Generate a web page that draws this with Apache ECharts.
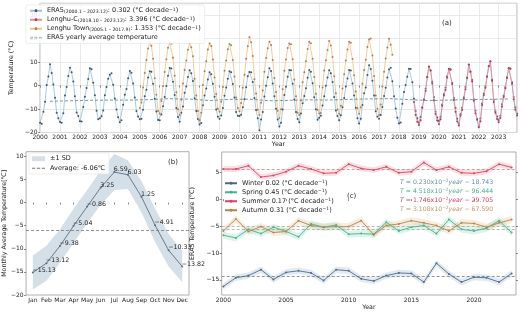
<!DOCTYPE html>
<html>
<head>
<meta charset="utf-8">
<script src="https://cdn.jsdelivr.net/npm/echarts@6/dist/echarts.min.js"></script>
<style>
html, body { margin: 0; padding: 0; background: #fff; }
#chart { width: 520px; height: 312px; }
</style>
</head>
<body>
<div id="chart"></div>
<script>
// (a) ERA5 monthly temperature, one row per year 2000..2023
var era5Monthly = [
	[-15.8, -16.3, -11.2, -6.9, 0.2, 3.8, 9.1, 5.3, 0.4, -5.2, -11.6, -13.9],
	[-15.5, -15.9, -11.8, -4.3, -0.6, 4.1, 7.6, 5.6, 1.7, -4.6, -11.5, -13.0],
	[-15.2, -15.3, -9.1, -4.8, -1.1, 2.8, 7.4, 6.9, 1.2, -4.1, -10.7, -14.4],
	[-13.9, -13.1, -10.6, -4.1, -0.6, 2.9, 4.6, 5.2, 0.3, -5.5, -10.2, -13.5],
	[-15.6, -14.8, -8.2, -3.9, -1.5, 3.1, 6.2, 5.4, 0.9, -5.1, -10.9, -13.2],
	[-14.4, -14.1, -10.3, -4.6, -1.8, 3.4, 6.1, 5.9, 0.8, -5.6, -11.1, -14.7],
	[-14.8, -12.3, -8.8, -4.9, -0.2, 4.2, 7.5, 7.2, 1.6, -4.0, -9.6, -13.4],
	[-15.4, -11.6, -8.9, -3.1, -0.4, 3.6, 6.5, 5.2, 1.9, -5.4, -10.9, -14.2],
	[-16.6, -16.0, -8.4, -4.2, -1.3, 2.6, 5.6, 4.8, 0.7, -4.8, -10.2, -13.3],
	[-14.1, -12.8, -9.6, -4.4, -0.8, 2.9, 6.1, 5.6, 0.6, -5.1, -11.3, -12.9],
	[-13.0, -12.4, -9.3, -5.8, -0.7, 3.9, 5.8, 5.7, 1.5, -5.3, -10.4, -13.9],
	[-19.0, -14.5, -11.3, -4.7, -0.1, 3.5, 7.3, 6.2, 0.9, -4.6, -9.9, -14.5],
	[-17.4, -15.8, -10.2, -4.0, -0.5, 3.7, 6.6, 6.5, 0.8, -5.9, -11.3, -14.3],
	[-15.6, -11.9, -7.6, -4.5, -1.2, 3.3, 6.6, 5.9, 1.0, -5.0, -10.1, -14.6],
	[-13.7, -12.9, -8.5, -4.6, -0.1, 3.4, 6.5, 5.2, 1.5, -4.9, -10.6, -13.0],
	[-14.8, -12.7, -9.2, -5.3, -0.4, 3.0, 6.6, 6.4, 0.9, -4.3, -9.5, -13.9],
	[-16.2, -14.1, -8.3, -3.3, -0.8, 4.5, 8.6, 7.0, 2.0, -4.3, -11.0, -13.3],
	[-14.1, -12.6, -9.1, -4.5, -0.9, 3.4, 6.9, 7.6, 1.8, -4.6, -9.8, -13.7],
	[-16.2, -15.7, -7.8, -2.8, 0.2, 3.7, 7.1, 7.0, 1.4, -5.6, -10.9, -13.9],
	[-15.9, -13.4, -9.2, -6.2, -1.4, 3.6, 7.8, 6.3, 1.6, -4.9, -11.2, -13.6],
	[-15.1, -13.3, -8.1, -3.7, -0.9, 3.9, 6.9, 6.7, 1.1, -5.3, -9.6, -14.1],
	[-16.3, -12.2, -9.5, -5.1, -0.6, 3.4, 8.8, 5.8, 2.3, -5.8, -10.7, -14.3],
	[-17.3, -14.0, -7.7, -3.5, -0.3, 3.9, 8.1, 10.2, 2.5, -6.1, -11.0, -13.2],
	[-14.8, -12.9, -8.0, -4.4, -0.6, 3.5, 7.2, 7.1, 1.4, -4.9, -9.4, -12.0]
];
// Lenghu Town station 2005.1 - 2017.9
var townMonthly = [
	[-9.6, -7.2, -0.8, 5.3, 10.9, 15.8, 18.6, 16.9, 11.4, 3.1, -3.9, -10.8],
	[-11.9, -6.6, -0.3, 5.8, 11.2, 16.1, 18.1, 17.8, 11.8, 4.2, -2.9, -10.1],
	[-12.6, -6.1, 0.9, 6.6, 10.6, 15.2, 18.0, 16.3, 12.5, 2.9, -4.2, -10.9],
	[-14.8, -11.6, 0.2, 6.1, 10.3, 15.3, 17.9, 16.8, 11.1, 3.4, -3.6, -9.9],
	[-11.2, -6.9, -0.6, 6.3, 10.6, 15.4, 17.7, 17.1, 10.9, 3.8, -5.1, -9.6],
	[-11.0, -7.4, -0.9, 4.6, 11.4, 16.7, 20.6, 18.4, 12.6, 2.7, -3.4, -10.3],
	[-12.6, -7.3, -2.1, 5.9, 11.7, 15.9, 18.6, 17.2, 10.9, 3.2, -2.8, -10.7],
	[-13.8, -10.1, -1.6, 6.3, 11.1, 16.0, 17.9, 17.6, 11.2, 2.6, -4.6, -11.6],
	[-12.6, -6.4, 1.4, 5.6, 10.3, 15.5, 18.6, 18.0, 11.4, 3.6, -3.5, -10.4],
	[-11.9, -11.7, -0.8, 6.4, 10.8, 15.1, 19.0, 17.0, 12.1, 3.9, -3.3, -10.2],
	[-12.0, -8.6, -1.3, 4.8, 10.7, 15.3, 18.6, 18.2, 11.3, 4.4, -2.5, -9.7],
	[-12.0, -9.2, 0.7, 6.6, 11.0, 16.4, 19.6, 20.0, 12.8, 4.0, -4.2, -9.9],
	[-12.6, -8.1, -0.4, 5.9, 11.5, 16.2, 19.9, 17.4, 13.1]
];
// Lenghu-C station 2018.10 - 2023.12
var lenghuCMonthly = [
	[-7.0, -12.5, -15.4],
	[-16.8, -14.8, -9.5, -6.0, -2.3, 3.6, 8.1, 6.5, 0.9, -6.3, -12.1, -14.9],
	[-16.5, -14.4, -8.6, -4.3, -1.9, 3.4, 7.1, 6.9, 0.6, -6.2, -11.2, -15.3],
	[-17.0, -12.9, -10.4, -5.6, -1.6, 3.2, 9.0, 6.0, 1.7, -6.5, -11.8, -14.6],
	[-17.8, -15.2, -8.3, -4.1, -0.9, 3.7, 8.3, 10.3, 2.0, -7.0, -11.6, -14.2],
	[-15.6, -13.8, -8.9, -4.9, -1.2, 3.2, 7.5, 7.2, 0.8, -5.8, -10.3, -12.8]
];
var era5Yearly = [-6.7, -6.5, -6.3, -6.2, -6.2, -6.0, -5.6, -5.8, -6.4, -5.9, -5.8, -6.5,
	-6.3, -6.1, -6.2, -5.9, -5.7, -5.6, -6.0, -6.4, -6.2, -6.0, -5.9, -5.7];

// (b) monthly climatology
var months = ['Jan', 'Feb', 'Mar', 'Apr', 'May', 'Jun', 'Jul', 'Aug', 'Sep', 'Oct', 'Nov', 'Dec'];
var monthMean = [-15.13, -13.12, -9.38, -5.04, -0.86, 3.25, 6.59, 6.03, 1.25, -4.91, -10.33, -13.82];
var monthSd = [3.7, 3.8, 3.6, 3.7, 3.6, 3.7, 3.9, 3.1, 3.4, 3.6, 3.5, 3.4];
var annualAverage = -6.06;

// (c) seasonal means 2000..2023
var seasonYears = [2000, 2001, 2002, 2003, 2004, 2005, 2006, 2007, 2008, 2009, 2010, 2011,
	2012, 2013, 2014, 2015, 2016, 2017, 2018, 2019, 2020, 2021, 2022, 2023];
var winter = [-16.2, -14.6, -14.2, -13.1, -14.9, -13.6, -13.3, -13.7, -15.1, -13.1, -13.3, -14.8,
	-15.2, -14.2, -13.7, -13.8, -15.4, -11.9, -13.9, -15.4, -14.5, -14.6, -15.4, -13.8];
var spring = [-6.7, -7.2, -5.6, -6.4, -5.2, -6.0, -7.0, -4.6, -5.2, -4.8, -6.5, -6.4,
	-6.5, -4.3, -5.9, -5.2, -4.9, -6.4, -3.8, -5.6, -5.9, -5.4, -4.0, -6.2];
var summer = [5.6, 5.6, 6.2, 4.1, 4.4, 5.1, 6.2, 5.6, 4.8, 4.9, 6.5, 5.7,
	5.4, 6.0, 4.9, 5.1, 6.8, 5.4, 6.0, 4.9, 4.8, 5.2, 6.5, 5.9];
var autumn = [-5.9, -3.7, -6.0, -5.1, -6.2, -6.0, -4.0, -4.9, -5.2, -5.1, -5.1, -4.0,
	-6.6, -4.9, -4.6, -4.0, -4.4, -4.9, -5.9, -4.4, -4.5, -5.2, -4.4, -3.8];
var seasonSpread = [0.6, 0.65, 0.55, 0.65];  // half width of shaded band: winter, spring, summer, autumn

var FONT = 'DejaVu Sans';
var FS = 6.5;

function monthPoints(rows, startYear, startMonth) {
	var pts = [];
	var k = 0;
	rows.forEach(function(row) {
		row.forEach(function(v) {
			pts.push([startYear + (startMonth - 1 + k) / 12, v]);
			k++;
		});
	});
	return pts;
}
function minus(v) {
	return String(v).replace('-', '\u2212');
}
function bandSeries(xs, lo, hi, color, axisIdx) {
	var data = xs.map(function(x, i) { return [x, lo[i], hi[i]]; });
	return {
		type: 'custom',
		xAxisIndex: axisIdx,
		yAxisIndex: axisIdx,
		data: data,
		silent: true,
		z: 1,
		encode: { x: 0, y: [1, 2] },
		renderItem: function(params, api) {
			if (params.dataIndex !== 0) return;
			var top = [], bot = [];
			for (var i = 0; i < xs.length; i++) {
				top.push(api.coord([xs[i], hi[i]]));
				bot.unshift(api.coord([xs[i], lo[i]]));
			}
			return { type: 'polygon', shape: { points: top.concat(bot) }, style: { fill: color } };
		}
	};
}
function seasonLine(name, values, lineColor, dashColor) {
	return {
		name: name, type: 'line', xAxisIndex: 2, yAxisIndex: 2, z: 3,
		data: seasonYears.map(function(y, i) { return [y, values[i]]; }),
		symbol: 'circle', symbolSize: 2,
		lineStyle: { color: lineColor, width: 0.9 },
		itemStyle: { color: lineColor },
		markLine: {
			silent: true, symbol: 'none', label: { show: false },
			lineStyle: { color: dashColor, type: [3, 2], width: 0.7 },
			data: [{ type: 'average' }]
		}
	};
}
function eqText(top, text, color) {
	return {
		type: 'text', left: 400, top: top,
		style: {
			text: text, fontSize: 6.2, fontFamily: FONT, fill: color,
			rich: {
				i: { fontStyle: 'italic', fontSize: 6.2, fontFamily: FONT, fill: color },
				s: { fontSize: 4.4, verticalAlign: 'top', lineHeight: 4, fontFamily: FONT, fill: color }
			}
		}
	};
}

var era5Pts = monthPoints(era5Monthly, 2000, 1);
var townPts = monthPoints(townMonthly, 2005, 1);
var lenghuCPts = monthPoints(lenghuCMonthly, 2018, 10);
var yearlyPts = era5Yearly.map(function(v, i) { return [2000.5 + i, v]; });

var sdLo = monthMean.map(function(m, i) { return m - monthSd[i]; });
var sdHi = monthMean.map(function(m, i) { return m + monthSd[i]; });
var monthIdx = months.map(function(m, i) { return i; });

function spreadLo(v, s) { return v.map(function(x) { return x - s; }); }
function spreadHi(v, s) { return v.map(function(x) { return x + s; }); }

var legendTextA = {
	'ERA5': 'ERA5{sub|(2000.1 \u2013 2023.12)}: 0.302 (\u00b0C decade{sup|\u22121})',
	'Lenghu-C': 'Lenghu-C{sub|(2018.10 \u2013 2023.12)}: 3.396 (\u00b0C decade{sup|\u22121})',
	'Lenghu Town': 'Lenghu Town{sub|(2005.1 \u2013 2017.9)}: 1.353 (\u00b0C decade{sup|\u22121})',
	'ERA5 yearly average temperature': 'ERA5 yearly average temperature'
};
var legendTextC = {
	'Winter': 'Winter 0.02 (\u00b0C decade{sup|\u22121})',
	'Spring': 'Spring 0.45 (\u00b0C decade{sup|\u22121})',
	'Summer': 'Summer 0.17 (\u00b0C decade{sup|\u22121})',
	'Autumn': 'Autumn 0.31 (\u00b0C decade{sup|\u22121})'
};
var richSub = {
	sub: { fontSize: 4.6, fontFamily: FONT, lineHeight: 4, verticalAlign: 'bottom', color: '#222' },
	sup: { fontSize: 4.6, fontFamily: FONT, lineHeight: 4, verticalAlign: 'top', color: '#222' }
};
var dashIcon = 'path://M0,0h4v1h-4z M6,0h4v1h-4z M12,0h4v1h-4z';

var axisLabelStyle = { fontSize: 6, fontFamily: FONT, color: '#222', margin: 2, formatter: minus };
var tickStyle = { show: true, length: 2, lineStyle: { color: '#555', width: 0.7 } };
var nameStyle = { fontSize: 6.3, fontFamily: FONT, color: '#222' };

var chart = echarts.init(document.getElementById('chart'), null, { renderer: 'canvas' });
var option = {
	animation: false,
	backgroundColor: '#fff',
	grid: [
		{ left: 22.8, top: 3.3, width: 494.2, height: 129.2, show: true, borderColor: '#999', borderWidth: 0.8 },
		{ left: 25, top: 151.7, width: 164, height: 143.3, show: true, borderColor: '#999', borderWidth: 0.8 },
		{ left: 221.7, top: 152, width: 294.3, height: 143, show: true, borderColor: '#999', borderWidth: 0.8 }
	],
	xAxis: [
		{
			type: 'value', gridIndex: 0, min: 2000, max: 2023.917, interval: 1,
			axisLine: { show: false }, axisTick: tickStyle,
			axisLabel: Object.assign({}, axisLabelStyle, { showMaxLabel: false, margin: 1.5 }),
			splitLine: { show: true, lineStyle: { color: '#e4e4e4', width: 0.8 } },
			name: 'Year', nameLocation: 'middle', nameGap: 8, nameTextStyle: nameStyle
		},
		{
			type: 'category', gridIndex: 1, data: months, boundaryGap: true,
			axisLine: { show: false }, axisTick: Object.assign({ alignWithLabel: true }, tickStyle),
			axisLabel: Object.assign({}, axisLabelStyle, { margin: 2, interval: 0 }),
			splitLine: { show: false }
		},
		{
			type: 'value', gridIndex: 2, min: 1999.87, max: 2023.35,
			axisLine: { show: false },
			axisTick: Object.assign({ customValues: [2000, 2005, 2010, 2015, 2020] }, tickStyle),
			axisLabel: Object.assign({}, axisLabelStyle, { customValues: [2000, 2005, 2010, 2015, 2020] }),
			splitLine: { show: false },
			name: 'Year', nameLocation: 'middle', nameGap: 9, nameTextStyle: nameStyle
		}
	],
	yAxis: [
		{
			type: 'value', gridIndex: 0, min: -20, max: 35, interval: 10,
			axisLine: { show: false }, axisTick: tickStyle,
			axisLabel: Object.assign({}, axisLabelStyle, { showMaxLabel: false, margin: 2.5 }),
			splitLine: { show: true, lineStyle: { color: '#e4e4e4', width: 0.8 } },
			name: 'Temperature (\u00b0C)', nameLocation: 'middle', nameGap: 14, nameTextStyle: nameStyle
		},
		{
			type: 'value', gridIndex: 1, min: -20, max: 11,
			axisLine: { show: false },
			axisTick: Object.assign({ customValues: [-20, -15, -10, -5, 0, 5, 10] }, tickStyle),
			axisLabel: Object.assign({}, axisLabelStyle, { customValues: [-20, -15, -10, -5, 0, 5, 10], margin: 2.5 }),
			splitLine: { show: false },
			name: 'Monthly Average Temperature[\u2103]', nameLocation: 'middle', nameGap: 17, nameTextStyle: nameStyle
		},
		{
			type: 'value', gridIndex: 2, min: -17.8, max: 8.76,
			axisLine: { show: false },
			axisTick: Object.assign({ customValues: [-15, -10, -5, 0, 5] }, tickStyle),
			axisLabel: Object.assign({}, axisLabelStyle, { customValues: [-15, -10, -5, 0, 5], margin: 2.5 }),
			splitLine: { show: false },
			name: 'ERA5 Temperature (\u00b0C)', nameLocation: 'middle', nameGap: 19, nameTextStyle: nameStyle
		},
		{
			type: 'value', gridIndex: 2, min: -17.8, max: 8.76, position: 'right',
			axisLine: { show: false },
			axisTick: Object.assign({ customValues: [-15, -10, -5, 0, 5] }, tickStyle),
			axisLabel: { show: false },
			splitLine: { show: false }
		}
	],
	legend: [
		{
			orient: 'vertical', left: 26, top: 5, padding: [2, 4, 2, 3],
			itemWidth: 12, itemHeight: 3.5, itemGap: 1.5,
			backgroundColor: 'rgba(255,255,255,0.85)', borderColor: '#e2e2e2', borderWidth: 0.6, borderRadius: 2,
			data: ['ERA5', 'Lenghu-C', 'Lenghu Town', { name: 'ERA5 yearly average temperature', icon: dashIcon, itemStyle: { color: '#5d8ea6' } }],
			formatter: function(n) { return legendTextA[n]; },
			textStyle: { fontSize: FS, fontFamily: FONT, color: '#222', lineHeight: 7.5, rich: richSub }
		},
		{
			orient: 'vertical', left: 29, top: 153, padding: [2, 4, 2, 3],
			itemWidth: 13, itemHeight: 5, itemGap: 2,
			backgroundColor: 'rgba(255,255,255,0.85)', borderColor: '#e2e2e2', borderWidth: 0.6, borderRadius: 2,
			data: [
				{ name: '\u00b11 SD', icon: 'rect', itemStyle: { color: '#d5dfe8' } },
				{ name: 'Average: -6.06\u2103', icon: dashIcon, itemStyle: { color: '#777' } }
			],
			textStyle: { fontSize: FS, fontFamily: FONT, color: '#222', lineHeight: 7.5 }
		},
		{
			orient: 'vertical', left: 223, top: 178.5, padding: [1, 3, 1, 1],
			itemWidth: 12, itemHeight: 3.5, itemGap: 1.5,
			data: ['Winter', 'Spring', 'Summer', 'Autumn'],
			formatter: function(n) { return legendTextC[n]; },
			textStyle: { fontSize: FS, fontFamily: FONT, color: '#222', lineHeight: 7.5, rich: richSub }
		}
	],
	graphic: [
		{ type: 'text', left: 442, top: 20, style: { text: '(a)', fontSize: 7, fontFamily: FONT, fill: '#222' } },
		{ type: 'text', left: 168, top: 159, style: { text: '(b)', fontSize: 7, fontFamily: FONT, fill: '#222' } },
		{ type: 'text', left: 347, top: 193, style: { text: '(c)', fontSize: 7, fontFamily: FONT, fill: '#222' } },
		eqText(179.3, '{i|T} = 0.230x10{s|\u22122}{i|year} \u2212 18.743', '#5f8fae'),
		eqText(188.2, '{i|T} = 4.518x10{s|\u22122}{i|year} \u2212 96.444', '#45b08c'),
		eqText(197.1, '{i|T} = 1.746x10{s|\u22122}{i|year} \u2212 29.705', '#d8455f'),
		eqText(206, '{i|T} = 3.108x10{s|\u22122}{i|year} \u2212 67.590', '#c39462')
	],
	series: [
		// (a)
		{
			name: 'ERA5', type: 'line', xAxisIndex: 0, yAxisIndex: 0, data: era5Pts, z: 2,
			symbol: 'circle', symbolSize: 2,
			lineStyle: { color: '#9fc3d8', width: 0.9 }, itemStyle: { color: '#3d5566' }
		},
		{
			name: 'Lenghu-C', type: 'line', xAxisIndex: 0, yAxisIndex: 0, data: lenghuCPts, z: 3,
			symbol: 'circle', symbolSize: 2,
			lineStyle: { color: '#e58e9b', width: 0.9 }, itemStyle: { color: '#c2384f' }
		},
		{
			name: 'Lenghu Town', type: 'line', xAxisIndex: 0, yAxisIndex: 0, data: townPts, z: 3,
			symbol: 'circle', symbolSize: 2,
			lineStyle: { color: '#f0c58e', width: 0.9 }, itemStyle: { color: '#a9825a' }
		},
		{
			name: 'ERA5 yearly average temperature', type: 'line', xAxisIndex: 0, yAxisIndex: 0, data: yearlyPts, z: 4,
			symbol: 'none', lineStyle: { color: '#5d8ea6', width: 0.9, type: [3, 2] }, itemStyle: { color: '#5d8ea6' }
		},
		// (b)
		Object.assign(bandSeries(monthIdx, sdLo, sdHi, '#d5dfe8', 1), { name: '\u00b11 SD', itemStyle: { color: '#d5dfe8' } }),
		{
			name: 'Average: -6.06\u2103', type: 'line', xAxisIndex: 1, yAxisIndex: 1, data: [],
			symbol: 'none', lineStyle: { color: '#777', width: 0.8, type: [3, 2] }, itemStyle: { color: '#777' },
			markLine: {
				silent: true, symbol: 'none', label: { show: false },
				lineStyle: { color: '#777', width: 0.8, type: [3, 2] },
				data: [{ yAxis: annualAverage }]
			}
		},
		{
			name: 'Monthly mean', type: 'line', xAxisIndex: 1, yAxisIndex: 1, data: monthMean, z: 3,
			symbol: 'circle', symbolSize: 2,
			lineStyle: { color: '#5a6f82', width: 0.9 }, itemStyle: { color: '#5a6f82' },
			label: {
				show: true, position: 'right', distance: 0, offset: [-1.5, -2.5],
				fontSize: 6.3, fontFamily: FONT, color: '#222',
				formatter: function(p) { return minus(p.value.toFixed(2)); }
			}
		},
		// (c)
		bandSeries(seasonYears, spreadLo(winter, seasonSpread[0]), spreadHi(winter, seasonSpread[0]), 'rgba(120,160,200,0.22)', 2),
		bandSeries(seasonYears, spreadLo(spring, seasonSpread[1]), spreadHi(spring, seasonSpread[1]), 'rgba(90,200,150,0.2)', 2),
		bandSeries(seasonYears, spreadLo(summer, seasonSpread[2]), spreadHi(summer, seasonSpread[2]), 'rgba(230,110,130,0.22)', 2),
		bandSeries(seasonYears, spreadLo(autumn, seasonSpread[3]), spreadHi(autumn, seasonSpread[3]), 'rgba(220,170,110,0.22)', 2),
		seasonLine('Winter', winter, '#4e6a85', '#666'),
		seasonLine('Spring', spring, '#45b08c', '#7a9'),
		seasonLine('Summer', summer, '#d6455e', '#a77'),
		seasonLine('Autumn', autumn, '#b0854a', '#a98')
	]
};
chart.setOption(option);
</script>
</body>
</html>
